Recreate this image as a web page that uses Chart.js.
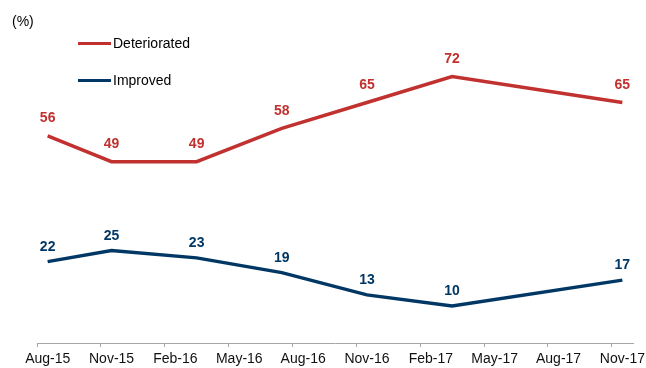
<!DOCTYPE html>
<html>
<head>
<meta charset="utf-8">
<script src="https://cdn.jsdelivr.net/npm/chart.js@4/dist/chart.umd.min.js"></script>
<style>
  html, body { margin: 0; padding: 0; background: #fff; }
  #wrap { width: 646px; height: 368px; }
</style>
</head>
<body>
<div id="wrap"><canvas id="c" width="646" height="368"></canvas></div>
<script>
// ---- data ----
const surveyDates = ['Aug-15', 'Nov-15', 'Mar-16', 'Jul-16', 'Nov-16', 'Mar-17', 'Nov-17'];
const deteriorated = [56, 49, 49, 58, 65, 72, 65];
const improved = [22, 25, 23, 19, 13, 10, 17];
const tickLabels = ['Aug-15', 'Nov-15', 'Feb-16', 'May-16', 'Aug-16', 'Nov-16', 'Feb-17', 'May-17', 'Aug-17', 'Nov-17'];
const seriesNames = ['Deteriorated', 'Improved'];
const unitLabel = '(%)';

// ---- helpers ----
const MONTHS = ['Jan','Feb','Mar','Apr','May','Jun','Jul','Aug','Sep','Oct','Nov','Dec'];
function monthIndex(s) {
  const [m, y] = s.split('-');
  return (2000 + parseInt(y, 10)) * 12 + MONTHS.indexOf(m);
}
const base = monthIndex(tickLabels[0]);
const xs = surveyDates.map(d => monthIndex(d) - base);
const lastMonth = monthIndex(tickLabels[tickLabels.length - 1]) - base;

const RED = '#C0312F';
const BLUE = '#003764';
const FONT = '"Liberation Sans", Arial, Helvetica, sans-serif';

const labelPlugin = {
  id: 'pointLabels',
  afterDatasetsDraw(chart) {
    const ctx = chart.ctx;
    ctx.save();
    ctx.font = 'bold 14px ' + FONT;
    ctx.textAlign = 'center';
    ctx.textBaseline = 'middle';
    chart.data.datasets.forEach((ds, i) => {
      const meta = chart.getDatasetMeta(i);
      ctx.fillStyle = ds.borderColor;
      meta.data.forEach((pt, j) => {
        ctx.fillText(String(ds.data[j].y), pt.x, pt.y - ds.labelOffset);
      });
    });
    ctx.restore();
  }
};

const legendPlugin = {
  id: 'customLegend',
  afterDraw(chart) {
    const ctx = chart.ctx;
    ctx.save();
    ctx.font = '14px ' + FONT;
    ctx.fillStyle = '#000';
    ctx.textBaseline = 'middle';
    ctx.textAlign = 'left';
    ctx.fillText(unitLabel, 12, 22);
    const rows = [44, 81];
    chart.data.datasets.forEach((ds, i) => {
      const y = rows[i];
      ctx.strokeStyle = ds.borderColor;
      ctx.lineWidth = 3;
      ctx.beginPath();
      ctx.moveTo(78, y - 0.5);
      ctx.lineTo(111, y - 0.5);
      ctx.stroke();
      ctx.fillStyle = '#000';
      ctx.fillText(ds.label, 113, y);
    });
    ctx.restore();
  }
};

new Chart(document.getElementById('c'), {
  type: 'line',
  data: {
    datasets: [
      {
        label: seriesNames[0],
        data: xs.map((x, i) => ({ x, y: deteriorated[i] })),
        borderColor: RED,
        backgroundColor: RED,
        borderWidth: 3.4,
        pointRadius: 0,
        tension: 0,
        labelOffset: 17.5
      },
      {
        label: seriesNames[1],
        data: xs.map((x, i) => ({ x, y: improved[i] })),
        borderColor: BLUE,
        backgroundColor: BLUE,
        borderWidth: 3.4,
        pointRadius: 0,
        tension: 0,
        labelOffset: 14.5
      }
    ]
  },
  options: {
    responsive: false,
    animation: false,
    layout: { padding: { left: 37, right: 13, top: 47, bottom: 0 } },
    plugins: {
      legend: { display: false },
      tooltip: { enabled: false }
    },
    scales: {
      x: {
        type: 'linear',
        min: -0.5,
        max: lastMonth + 0.5,
        afterBuildTicks(scale) {
          scale.ticks = tickLabels.map((_, i) => ({ value: i * 3 - 0.5 }));
        },
        afterFit(scale) { scale.height = 25; },
        grid: {
          display: true,
          drawOnChartArea: false,
          drawTicks: true,
          tickLength: 4,
          color: '#A6A6A6',
          lineWidth: 1
        },
        border: { display: true, color: '#A6A6A6', width: 1 },
        ticks: {
          autoSkip: false,
          maxRotation: 0,
          padding: 4,
          labelOffset: 10.7,
          color: '#111',
          font: { family: FONT, size: 14 },
          callback: (value) => tickLabels[Math.round((value + 0.5) / 3)]
        }
      },
      y: {
        display: false,
        min: 0,
        max: 80
      }
    }
  },
  plugins: [labelPlugin, legendPlugin]
});
</script>
</body>
</html>
